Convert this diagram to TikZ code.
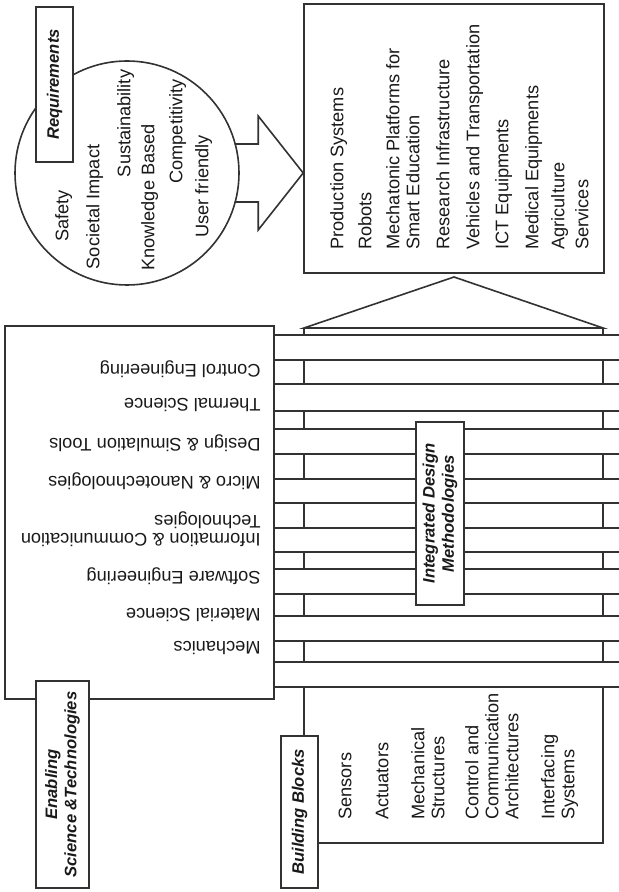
\documentclass[tikz,border=0pt]{standalone}
\usepackage{fontspec}
\setmainfont{Liberation Sans}
\definecolor{linegray}{RGB}{50, 50, 50}
\definecolor{inkgray}{RGB}{25, 25, 25}
\tikzset{
  frame/.style={draw=linegray, line width=0.8pt},
  titlebox/.style={frame, fill=white, rotate=90, inner sep=0pt, align=center, text=inkgray,
    font=\fontsize{8.3}{9.6}\selectfont\bfseries\itshape},
  entry/.style={inner sep=0pt, align=left, text=inkgray, text height=1.6ex, text depth=.4ex,
    font=\fontsize{9.1}{10}\selectfont},
  upentry/.style={entry, rotate=90, anchor=west},
  downentry/.style={entry, rotate=180, anchor=west},
}

\begin{document}
\begin{tikzpicture}[x=0.5pt, y=-0.5pt]
  \useasboundingbox (0,0) rectangle (619,892);

  % Application fields
  \node[frame, minimum width=150pt, minimum height=134.5pt] (apps) at (454,138.5) {};
  \foreach \x/\t [count=\i] in {337/Production Systems, 365/Robots, 393/Mechatonic Platforms for,
      413/Smart Education, 443/Research Infrastructure, 473/Vehicles and Transportation,
      502/ICT Equipments, 532/Medical Equipments, 558/Agriculture, 582/Services} {
    \node[upentry] (app\i) at (\x,250) {\t};
  }

  % Requirements circle and block arrow
  \node[frame, fill=white, circle, minimum size=112pt] (reqcircle) at (127,173) {};
  \coordinate (tip) at (apps.west |- reqcircle.center);
  \draw[frame] (tip) -- ++(-45,-57) -- ++(0,28) -- ++(-23.5,0);
  \draw[frame] (tip) -- ++(-45,57) -- ++(0,-28) -- ++(-23.5,0);
  \node[entry, rotate=90] (safety) at (62,216) {Safety};
  \node[entry, rotate=90] (societal) at (93,207) {Societal Impact};
  \node[entry, rotate=90] (sustain) at (124,123.5) {Sustainability};
  \node[entry, rotate=90] (knowledge) at (148,197.5) {Knowledge Based};
  \node[entry, rotate=90] (compet) at (176,131.5) {Competitivity};
  \node[entry, rotate=90] (userfr) at (202,186.5) {User friendly};
  \node[titlebox, minimum width=77.5pt, minimum height=18.5pt] (reqlabel) at (54.5,84.5) {Requirements};

  % Planks running through the pillar
  \foreach \y in {335,360,384,411,429,454,479,503,528,552,569,594,616,641,662,687} {
    \draw[frame] (274,\y) -- (619,\y);
  }
  \foreach \a/\b in {328/335,360/384,411/429,454/479,503/528,552/569,594/616,641/662} {
    \draw[frame] (304,\a) -- (304,\b);
    \draw[frame] (603,\a) -- (603,\b);
  }

  % Roof
  \draw[frame, line join=miter] (304,328) -- (603,328) -- (454,277) -- cycle;

  % Enabling science box
  \node[frame, minimum width=134.5pt, minimum height=186.5pt] (enabling) at (139.5,512.5) {};
  \foreach \y/\t [count=\i] in {371/Control Engineering, 405/Thermal Science,
      445/Design \& Simulation Tools, 483/Micro \& Nanotechnologies, 522/Technologies,
      540/Information \& Communication, 578/Software Engineering, 615/Material Science,
      648/Mechanics} {
    \node[downentry] (tech\i) at (261,\y) {\t};
  }
  \node[titlebox, minimum width=103.5pt, minimum height=26.5pt] (enablabel) at (62.5,784.5)
    {Enabling\\Science \&Technologies};

  % Integrated design methodologies
  \node[titlebox, minimum width=91.5pt, minimum height=24pt] (idm) at (440,513.5)
    {Integrated Design\\Methodologies};

  % Building blocks
  \node[frame, minimum width=149.5pt, minimum height=78pt] (blocks) at (453.5,765) {};
  \foreach \x/\t [count=\i] in {345/Sensors, 382/Actuators, 418/Mechanical, 438/Structures,
      472/Control and, 492/Communication, 512/Architectures, 548/Interfacing, 568/Systems} {
    \node[upentry] (block\i) at (\x,820) {\t};
  }
  \node[titlebox, minimum width=76pt, minimum height=18.5pt] (blocklabel) at (299.5,812) {Building Blocks};
\end{tikzpicture}
\end{document}
